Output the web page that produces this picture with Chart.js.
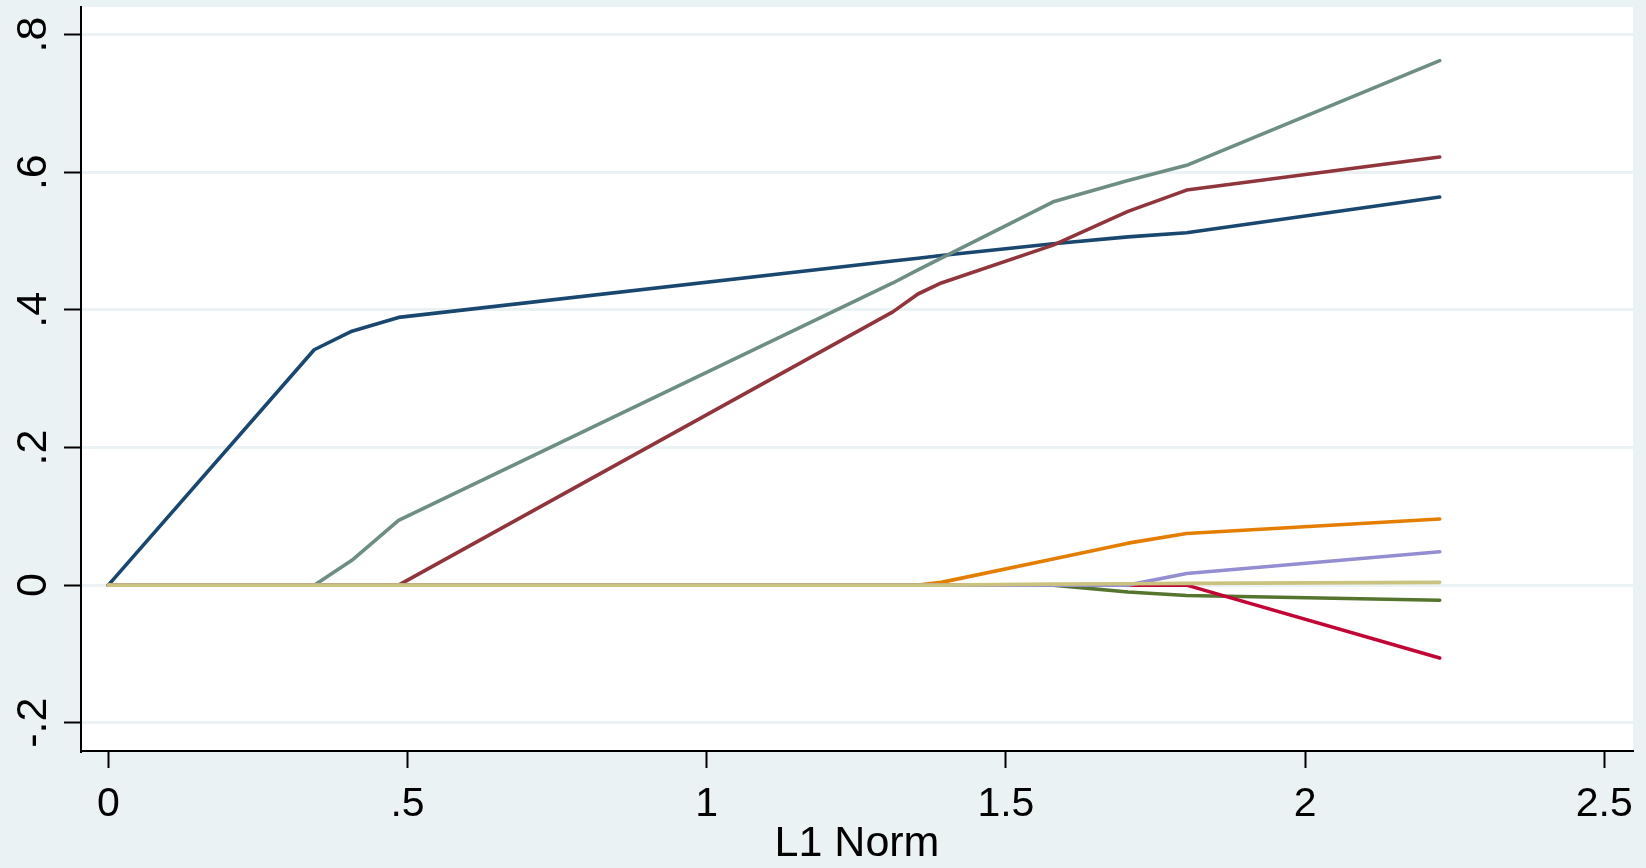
<!DOCTYPE html>
<html>
<head>
<meta charset="utf-8">
<title>Lasso coefficient paths</title>
<script src="https://cdn.jsdelivr.net/npm/chart.js@4"></script>
<style>
  html, body { margin: 0; padding: 0; background: #EAF2F3; overflow: hidden; }
  #wrap { width: 1646px; height: 868px; position: relative; }
</style>
</head>
<body>
<div id="wrap"><canvas id="paths"></canvas></div>
<script>
// L1 norm of the coefficient vector at each knot of the lasso path
const l1Norm = [0, 0.344, 0.407, 0.485, 1.311, 1.353, 1.392, 1.579, 1.704, 1.802, 2.225];

// Standardized coefficient values along the path, one array per variable
const coefNavy     = [0, 0.342, 0.369, 0.389, 0.471, 0.475, 0.479, 0.496, 0.506, 0.512, 0.564];
const coefMaroon   = [0, 0,     0,     0,     0.397, 0.423, 0.439, 0.494, 0.543, 0.574, 0.622];
const coefForest   = [0, 0,     0,     0,     0,     0,     0,     0,    -0.010, -0.015, -0.022];
const coefOrange   = [0, 0,     0,     0,     0,     0,     0.004, 0.038, 0.061, 0.075, 0.096];
const coefTeal     = [0, 0,     0.036, 0.094, 0.439, 0.458, 0.475, 0.557, 0.588, 0.610, 0.762];
const coefCranberry= [0, 0,     0,     0,     0,     0,     0,     0,     0,     0,    -0.106];
const coefLavender = [0, 0,     0,     0,     0,     0,     0,     0,     0,     0.017, 0.0485];
const coefKhaki    = [0, 0,     0,     0,     0,     0,     0,     0.0015, 0.002, 0.0025, 0.004];

const seriesValues = [coefNavy, coefMaroon, coefForest, coefOrange, coefTeal, coefCranberry, coefLavender, coefKhaki];
const seriesColors = ['#1A476F', '#90353B', '#55752F', '#E37E00', '#6E8E84', '#C10534', '#938DD2', '#CAC27E'];

// Axis ticks
const xTickValues = [0, 0.5, 1, 1.5, 2, 2.5];
const xTickLabels = ['0', '.5', '1', '1.5', '2', '2.5'];
const yTickValues = [-0.2, 0, 0.2, 0.4, 0.6, 0.8];
const yTickLabels = ['-.2', '0', '.2', '.4', '.6', '.8'];

const FONT = '"Liberation Sans", Arial, Helvetica, sans-serif';

// White plot region on the light blue graph background
const plotRegion = {
  id: 'plotRegion',
  beforeDraw(chart) {
    const { ctx, chartArea: a } = chart;
    ctx.save();
    ctx.fillStyle = '#EAF2F3';
    ctx.fillRect(0, 0, chart.width, chart.height);
    ctx.fillStyle = '#FFFFFF';
    ctx.fillRect(a.left, a.top, a.right - a.left, a.bottom - a.top);
    ctx.restore();
  }
};

const datasets = seriesValues.map((vals, i) => ({
  data: vals.map((v, k) => ({ x: l1Norm[k], y: v })),
  borderColor: seriesColors[i],
  backgroundColor: seriesColors[i],
  borderWidth: 3.6,
  pointRadius: 0,
  tension: 0,
  fill: false,
  borderCapStyle: 'round',
  borderJoinStyle: 'round',
  order: seriesValues.length - i
}));

new Chart(document.getElementById('paths'), {
  type: 'line',
  data: { datasets },
  plugins: [plotRegion],
  options: {
    responsive: true,
    maintainAspectRatio: false,
    animation: false,
    layout: { padding: { top: 7, right: 13, left: 0, bottom: 0 } },
    plugins: {
      legend: { display: false },
      tooltip: { enabled: false }
    },
    scales: {
      x: {
        type: 'linear',
        min: -0.0457,
        max: 2.548,
        afterFit(s) { s.height = 117; s.paddingLeft = 0; s.paddingRight = 0; },
        afterBuildTicks(s) { s.ticks = xTickValues.map(v => ({ value: v })); },
        ticks: {
          callback: (v, i) => xTickLabels[i],
          color: '#000',
          font: { family: FONT, size: 41 },
          padding: 12,
          maxRotation: 0,
          minRotation: 0
        },
        grid: {
          drawOnChartArea: false,
          drawTicks: true,
          tickLength: 17,
          tickColor: '#000',
          tickWidth: 2
        },
        border: { display: true, color: '#000', width: 2 },
        title: {
          display: true,
          text: 'L1 Norm',
          color: '#000',
          font: { family: FONT, size: 43 },
          padding: { top: 0, bottom: -2 }
        }
      },
      y: {
        type: 'linear',
        min: -0.241,
        max: 0.840,
        afterFit(s) { s.width = 81; s.paddingTop = 0; s.paddingBottom = 0; },
        afterBuildTicks(s) { s.ticks = yTickValues.map(v => ({ value: v })); },
        ticks: {
          callback: (v, i) => yTickLabels[i],
          color: '#000',
          font: { family: FONT, size: 43 },
          padding: 5,
          crossAlign: 'center',
          minRotation: 90,
          maxRotation: 90
        },
        grid: {
          color: '#EAF2F3',
          lineWidth: 3,
          drawTicks: true,
          tickLength: 17,
          tickColor: '#000',
          tickWidth: 2
        },
        border: { display: true, color: '#000', width: 2 }
      }
    }
  }
});
</script>
</body>
</html>
